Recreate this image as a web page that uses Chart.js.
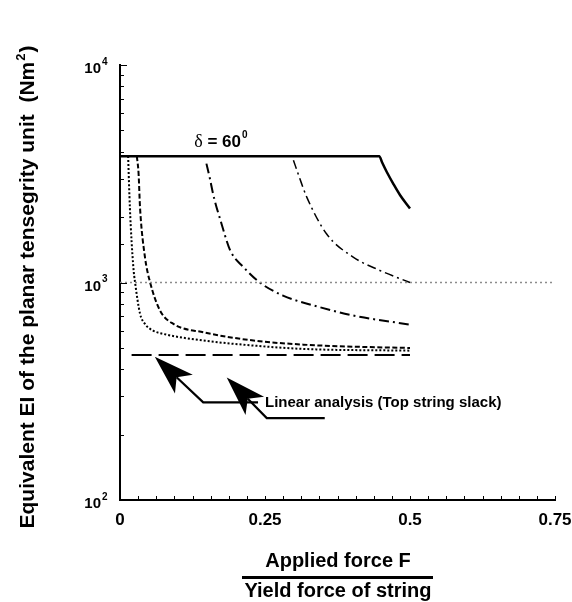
<!DOCTYPE html>
<html>
<head>
<meta charset="utf-8">
<script src="https://cdn.jsdelivr.net/npm/chart.js@4/dist/chart.umd.min.js"></script>
<style>
  body { margin: 0; background: #fff; }
  canvas { display: block; }
</style>
</head>
<body>
<canvas id="chart" width="572" height="602"></canvas>
<script>
// eixos
const xTicks = [0, 0.25, 0.5, 0.75];
const xTickLabels = ['0', '0.25', '0.5', '0.75'];
const xMinorStep = 0.03125;
const yTicks = [100, 1000, 10000];
const yTickExp = ['2', '3', '4'];

// curva delta = 60 (patamar + queda)
const solidX = [0, 0.447, 0.452, 0.460, 0.471, 0.483, 0.5];
const solidY = [3810, 3810, 3560, 3220, 2850, 2520, 2190];

// traço-ponto que começa em 0.3
const dashDotBX = [0.299, 0.310, 0.322, 0.356, 0.402, 0.448, 0.5];
const dashDotBY = [3650, 3005, 2470, 1675, 1309, 1136, 1000];

// traço-ponto que começa em 0.15
const dashDotAX = [0.149, 0.155, 0.161, 0.175, 0.190, 0.213, 0.241, 0.281, 0.345, 0.402, 0.5];
const dashDotAY = [3520, 3005, 2520, 1864, 1404, 1176, 1000, 871, 769, 705, 640];

// tracejado curto
const dashedX = [0.029, 0.032, 0.0345, 0.043, 0.052, 0.069, 0.092, 0.144, 0.23, 0.316, 0.402, 0.5];
const dashedY = [3810, 3180, 2220, 1310, 1000, 743, 645, 590, 541, 518, 507, 500];

// pontilhado
const dottedX = [0.014, 0.017, 0.023, 0.026, 0.0345, 0.043, 0.057, 0.075, 0.144, 0.23, 0.316, 0.5];
const dottedY = [3810, 2220, 1176, 1000, 720, 645, 601, 580, 541, 513, 495, 486];

// análise linear
const linearX = [0.02, 0.5];
const linearY = [464, 464];

// linha de referência cinza em 10^3
const refX = [0, 0.75];
const refY = [1000, 1000];

// setas da anotação: ponta, cotovelo, fim
const arrow1X = [0.060, 0.1435, 0.238];
const arrow1Y = [456, 281, 281];
const arrow2X = [0.184, 0.253, 0.353];
const arrow2Y = [366, 238, 238];

const font = '"Liberation Sans", Arial, Helvetica, sans-serif';

function pts(xs, ys) {
  return xs.map((x, i) => ({ x: x, y: ys[i] }));
}

function serie(xs, ys, width, dash, color) {
  return {
    data: pts(xs, ys),
    borderColor: color || '#000',
    borderWidth: width,
    borderDash: dash,
    pointRadius: 0,
    showLine: true,
    fill: false,
    cubicInterpolationMode: 'monotone',
    borderCapStyle: 'butt'
  };
}

// desenha textos, ticks e setas usando as escalas do gráfico
const decor = {
  id: 'decor',
  afterDraw(chart) {
    const ctx = chart.ctx;
    const xs = chart.scales.x;
    const ys = chart.scales.y;
    const area = chart.chartArea;
    ctx.save();
    ctx.fillStyle = '#000';
    ctx.strokeStyle = '#000';

    // ticks do eixo y (para dentro)
    ctx.lineWidth = 1;
    ys.ticks.forEach(t => {
      const y = Math.round(ys.getPixelForValue(t.value)) + 0.5;
      const major = yTicks.includes(t.value);
      ctx.beginPath();
      ctx.moveTo(area.left, y);
      ctx.lineTo(area.left + (major ? 7 : 4), y);
      ctx.stroke();
    });

    // ticks do eixo x (para cima)
    xs.ticks.forEach(t => {
      const x = Math.round(xs.getPixelForValue(t.value)) + 0.5;
      ctx.beginPath();
      ctx.moveTo(x, area.bottom);
      ctx.lineTo(x, area.bottom - 4);
      ctx.stroke();
    });

    // rótulos do eixo y: 10^n
    yTicks.forEach((v, i) => {
      const y = ys.getPixelForValue(v);
      ctx.font = 'bold 15px ' + font;
      ctx.textAlign = 'right';
      ctx.textBaseline = 'middle';
      ctx.fillText('10', 101, y + 4);
      ctx.font = 'bold 10px ' + font;
      ctx.textAlign = 'left';
      ctx.fillText(yTickExp[i], 102, y - 3);
    });

    // rótulos do eixo x
    ctx.font = 'bold 17px ' + font;
    ctx.textAlign = 'center';
    ctx.textBaseline = 'middle';
    xTicks.forEach((v, i) => {
      ctx.fillText(xTickLabels[i], xs.getPixelForValue(v), area.bottom + 20);
    });

    // título do eixo x (fração)
    ctx.font = 'bold 20px ' + font;
    ctx.fillText('Applied force F', 338, 561);
    ctx.fillRect(242, 576, 191, 3);
    ctx.fillText('Yield force of string', 338, 591);

    // título do eixo y
    ctx.save();
    ctx.translate(34, 288);
    ctx.rotate(-Math.PI / 2);
    const main = 'Equivalent EI of the planar tensegrity unit  (Nm';
    ctx.font = 'bold 21px ' + font;
    const wMain = ctx.measureText(main).width;
    ctx.font = 'bold 13px ' + font;
    const wSup = ctx.measureText('2').width;
    ctx.font = 'bold 21px ' + font;
    let x0 = -(wMain + wSup + ctx.measureText(')').width) / 2;
    ctx.textAlign = 'left';
    ctx.textBaseline = 'alphabetic';
    ctx.fillText(main, x0, 0);
    ctx.font = 'bold 13px ' + font;
    ctx.fillText('2', x0 + wMain + 1, -9);
    ctx.font = 'bold 21px ' + font;
    ctx.fillText(')', x0 + wMain + wSup + 2, 0);
    ctx.restore();

    // rótulo delta = 60°
    const dx = xs.getPixelForValue(0.128);
    const dy = ys.getPixelForValue(3810) - 9;
    ctx.textAlign = 'left';
    ctx.textBaseline = 'alphabetic';
    ctx.font = '18px "Liberation Serif", "Times New Roman", serif';
    ctx.fillText('δ', dx, dy);
    let w = ctx.measureText('δ').width;
    ctx.font = 'bold 17px ' + font;
    ctx.fillText(' = 60', dx + w, dy);
    w += ctx.measureText(' = 60').width;
    ctx.font = 'bold 10px ' + font;
    ctx.fillText('0', dx + w + 1, dy - 9);

    // texto da anotação
    ctx.font = 'bold 15px ' + font;
    ctx.textBaseline = 'middle';
    ctx.fillText('Linear analysis (Top string slack)', xs.getPixelForValue(0.25), ys.getPixelForValue(281));

    // setas
    [[arrow1X, arrow1Y], [arrow2X, arrow2Y]].forEach(([ax, ay]) => {
      const p = ax.map((v, i) => [xs.getPixelForValue(v), ys.getPixelForValue(ay[i])]);
      const ang = Math.atan2(p[0][1] - p[1][1], p[0][0] - p[1][0]);
      const len = 40, half = 13;
      const bx = p[0][0] - len * Math.cos(ang);
      const by = p[0][1] - len * Math.sin(ang);
      const nx = p[0][0] - 0.75 * len * Math.cos(ang);
      const ny = p[0][1] - 0.75 * len * Math.sin(ang);
      ctx.lineWidth = 2.2;
      ctx.beginPath();
      ctx.moveTo(nx, ny);
      ctx.lineTo(p[1][0], p[1][1]);
      ctx.lineTo(p[2][0], p[2][1]);
      ctx.stroke();
      ctx.beginPath();
      ctx.moveTo(p[0][0], p[0][1]);
      ctx.lineTo(bx + half * Math.sin(ang), by - half * Math.cos(ang));
      ctx.lineTo(nx, ny);
      ctx.lineTo(bx - half * Math.sin(ang), by + half * Math.cos(ang));
      ctx.closePath();
      ctx.fill();
    });

    ctx.restore();
  }
};

const ctx = document.getElementById('chart').getContext('2d');

const chart = new Chart(ctx, {
  type: 'scatter',
  data: {
    datasets: [
      serie(refX, refY, 1.5, [2, 3], '#8c8c8c'),
      serie(solidX, solidY, 2.5, []),
      serie(dashDotBX, dashDotBY, 1.5, [9, 4, 2, 4]),
      serie(dashDotAX, dashDotAY, 2, [10, 4, 2, 4]),
      serie(dashedX, dashedY, 2, [5, 2.5]),
      serie(dottedX, dottedY, 2, [2, 2]),
      serie(linearX, linearY, 2, [20, 7])
    ]
  },
  options: {
    responsive: false,
    animation: false,
    devicePixelRatio: 1,
    layout: { padding: { left: 120, right: 17, top: 65, bottom: 102 } },
    plugins: {
      legend: { display: false },
      tooltip: { enabled: false }
    },
    scales: {
      x: {
        type: 'linear',
        min: 0,
        max: 0.75,
        ticks: { display: false, stepSize: xMinorStep },
        grid: { display: false, drawTicks: false },
        border: { display: true, color: '#000', width: 2 }
      },
      y: {
        type: 'logarithmic',
        min: 100,
        max: 10000,
        ticks: { display: false },
        grid: { display: false, drawTicks: false },
        border: { display: true, color: '#000', width: 2 }
      }
    }
  },
  plugins: [decor]
});
</script>
</body>
</html>
